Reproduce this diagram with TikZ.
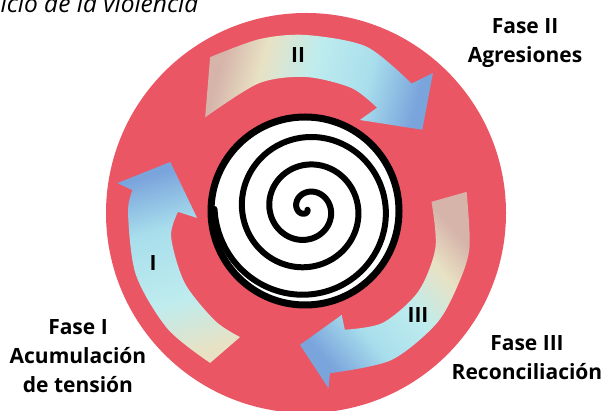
\documentclass[tikz,border=0pt]{standalone}
\usepackage{fontspec}
\setmainfont{Open Sans}
\usetikzlibrary{calc}

\definecolor{ringred}{RGB}{234,86,100}
\definecolor{tailrose}{RGB}{214,180,170}
\definecolor{paper}{RGB}{232,226,196}
\definecolor{ice}{RGB}{190,236,238}
\definecolor{aqua}{RGB}{168,222,236}
\definecolor{skyblue}{RGB}{122,164,220}

\pgfdeclarehorizontalshading{phase}{100bp}{color(0bp)=(tailrose); color(25bp)=(tailrose); color(35bp)=(paper); color(48bp)=(ice); color(62bp)=(aqua); color(75bp)=(skyblue); color(100bp)=(skyblue)}
\pgfdeclarehorizontalshading{phasepale}{100bp}{color(0bp)=(paper); color(25bp)=(paper); color(40bp)=(ice); color(60bp)=(aqua); color(75bp)=(skyblue); color(100bp)=(skyblue)}

\begin{document}
\begin{tikzpicture}[
		x=1pt, y=1pt,
		phasearrow/.style={shading=phase, shading angle=#1},
		phaselabel/.style={
				font=\fontsize{21}{29}\selectfont\bfseries,
				align=center, anchor=north, inner sep=0pt
			},
		numeral/.style={font=\fontsize{21}{24}\selectfont\bfseries, inner sep=0pt}
	]
	\clip (0,0) rectangle (601,411);
	\fill[white] (0,0) rectangle (601,411);

	\node [font=\fontsize{24.5}{28}\selectfont\itshape, anchor=base west, inner sep=0pt] (title) at (-14,398) {Ciclo de la violencia};

	% red disc
	\fill[ringred] (306,198) circle[radius=200];

	% the three phase arrows, around the disc centre
	\begin{scope}[shift={(306,198)}]
		\shade[phasearrow=106, shading=phasepale] plot[smooth] coordinates {(237.4:178) (220:180.5) (200:181) (180:178) (172.5:175)}
			-- (171:191) -- (159.4:145) -- (182.6:109)
			-- plot[smooth] coordinates {(179.5:128) (190:137) (210:140) (230:141) (242:140.5)} -- cycle;
		\shade[phasearrow=-15] plot[smooth] coordinates {(121.6:183) (105:180) (90:178) (70:177) (50.8:167)}
			-- (47.8:189) -- (35.6:143) -- (59.9:107.5)
			-- plot[smooth] coordinates {(56:127) (70:133) (90:136) (110:138) (136.5:139)} -- cycle;
		\shade[phasearrow=221] plot[smooth] coordinates {(7.5:162) (-11.6:167) (-24:168) (-40:171) (-60:170) (-81.5:162)}
			-- (-82.7:176.7) -- (-92.6:132) -- (-70.7:108)
			-- plot[smooth] coordinates {(-71.6:123) (-55:134) (-35:137) (-15:134) (5.1:126)} -- cycle;
	\end{scope}

	\node [numeral] (num1) at (153,148) {I};
	\node [numeral] (num2) at (298,356) {II};
	\node [numeral] (num3) at (418,96) {III};

	% spiral disc, radius grows 27.5 per turn
	\draw[line width=7pt, fill=white] (305,200) circle[radius=94];
	\draw[line width=6pt, line cap=round] plot[smooth, domain=300:-900, samples=241, variable=\t]
		({307+(10+0.07639*(180-\t))*cos(\t)}, {202+(10+0.07639*(180-\t))*sin(\t)});

	\node [phaselabel] (fase1) at (78,92) {Fase I\\Acumulación\\de tensión};
	\node [phaselabel] (fase2) at (525,393) {Fase II\\Agresiones};
	\node [phaselabel] (fase3) at (527,76) {Fase III\\Reconciliación};
\end{tikzpicture}
\end{document}
